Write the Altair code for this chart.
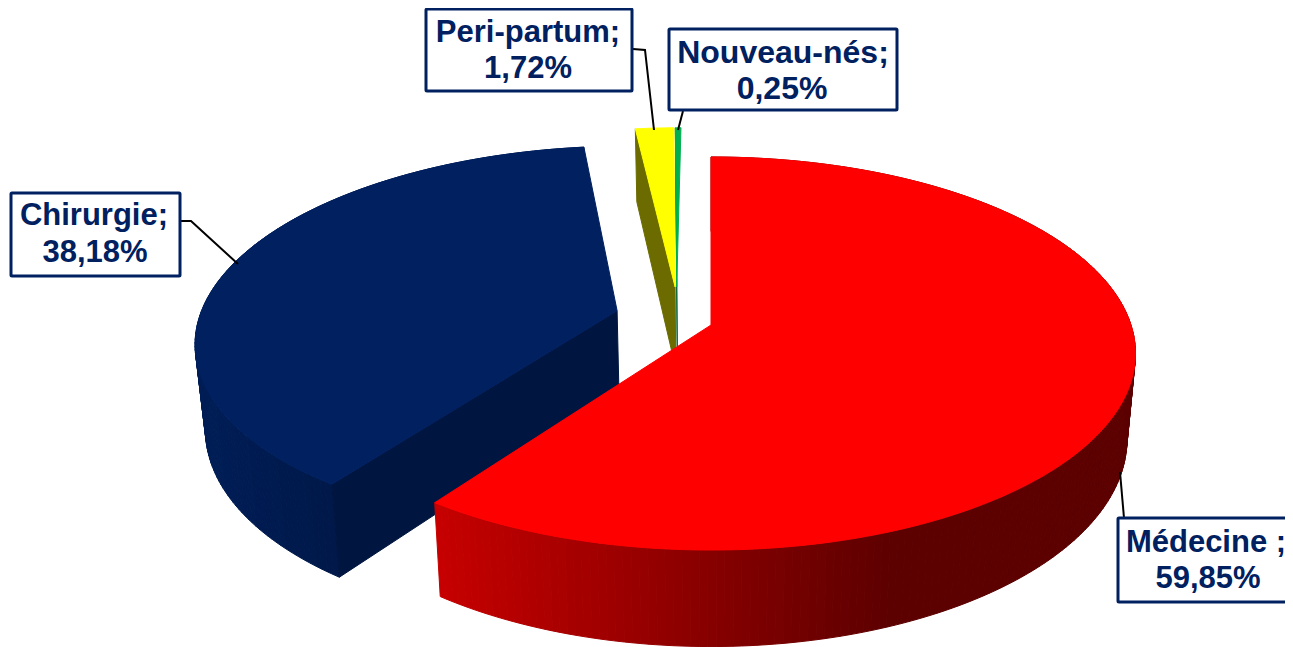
import math
import altair as alt
import pandas as pd

# Chart values
labels = ["Médecine ;", "Chirurgie;", "Peri-partum;", "Nouveau-nés;"]
shares = [59.85, 38.18, 1.72, 0.25]
value_text = ["59,85%", "38,18%", "1,72%", "0,25%"]
# Explosion of each slice in the plane of the pie (fraction of the radius)
explode_u = [0.0, -0.226, -0.088, -0.084]
explode_v = [0.0, -0.075, -0.204, -0.204]
top_colors = ["#FF0000", "#002060", "#FFFF00", "#00B050"]
cut_colors = ["#800000", "#001640", "#6B6B00", "#00602C"]
side_from = [(198, 0, 0), (0, 29, 86), (107, 107, 0), (0, 96, 44)]
side_to = [(92, 0, 0), (0, 25, 74), (107, 107, 0), (0, 96, 44)]
has_wall = [True, True, False, False]
has_cut = [False, True, True, True]

# Label boxes: left, right, top, bottom, text centre, first and second line
box_x = [1118, 11, 426, 669]
box_x2 = [1300, 180, 632, 897]
box_y = [518, 193, 9, 29]
box_y2 = [602, 276, 91, 110]
text_x = [1206, 94, 528, 783]
value_x = [1208, 95, 528, 782]
text_y1 = [543, 216, 33, 53]
text_y2 = [579, 253, 69, 89]
label_size = [31, 31, 31, 32]
# Leader lines
leader_x = [[1120, 1124], [180, 191, 238], [633, 645, 654], [683, 678]]
leader_y = [[472, 518], [221, 221, 264], [49, 50, 130], [111, 130]]

# View of the pie
CX, CY, RX, RY, K = 711.0, 325.0, 420.0, 192.4, 0.145
DEPTH_FAR, DEPTH_SLOPE, SHRINK = 73.0, 0.056, 0.98


def project(u, v):
    w = 1 - K * v
    return CX + RX * u / w, CY + RY * v / w


def lower(x, y):
    return CX + (x - CX) * SHRINK, y + DEPTH_FAR + DEPTH_SLOPE * (y - 130)


def rim(a, i):
    r = math.radians(a)
    return project(explode_u[i] + math.sin(r), explode_v[i] - math.cos(r))


rows = []
pid = 0


def poly(points, color):
    global pid
    pid += 1
    closed = points + [points[0]]
    for n, (x, y) in enumerate(closed):
        rows.append({"id": pid, "n": n, "x": x, "y": y, "color": color})


def mix(c0, c1, t):
    t = max(0.0, min(1.0, t))
    return "#%02x%02x%02x" % tuple(round(p + (q - p) * t) for p, q in zip(c0, c1))


# Angle range of every slice, clockwise from the top
start = 0.0
ranges = []
for s in shares:
    ranges.append((start, start + s * 3.6))
    start += s * 3.6

# Painted from back to front
for i in [3, 2, 1, 0]:
    a0, a1 = ranges[i]
    apex = project(explode_u[i], explode_v[i])
    step = max(0.15, min(1.0, (a1 - a0) / 8))
    n = max(2, round((a1 - a0) / step))
    angles = [a0 + (a1 - a0) * j / n for j in range(n + 1)]
    pts = [rim(a, i) for a in angles]
    # outer wall
    if has_wall[i]:
        for p, q in zip(pts[:-1], pts[1:]):
            t = (p[0] - 440) / 460 if i == 0 else (p[0] - 200) / 130
            poly([p, q, lower(*q), lower(*p)], mix(side_from[i], side_to[i], t))
    # visible cut face
    if has_cut[i]:
        edge = rim(a0, i)
        poly([apex, edge, lower(*edge), lower(*apex)], cut_colors[i])
    # top face
    poly([apex] + pts, top_colors[i])

pie = pd.DataFrame(rows)

xs = alt.Scale(domain=[8, 1285], nice=False, zero=False)
ys = alt.Scale(domain=[647, 8], nice=False, zero=False)

pie_layer = alt.Chart(pie).mark_line(strokeWidth=1, fill="black", strokeJoin="round").encode(
    x=alt.X("x:Q", scale=xs, axis=None),
    y=alt.Y("y:Q", scale=ys, axis=None),
    order=alt.Order("n:Q"),
    detail="id:N",
    fill=alt.Fill("color:N", scale=None),
    stroke=alt.Stroke("color:N", scale=None),
)

lead = pd.DataFrame(
    [
        {"k": i, "n": n, "x": x, "y": y}
        for i, (lx, ly) in enumerate(zip(leader_x, leader_y))
        for n, (x, y) in enumerate(zip(lx, ly))
    ]
)
lead_layer = alt.Chart(lead).mark_line(color="black", strokeWidth=2).encode(
    x=alt.X("x:Q", scale=xs, axis=None),
    y=alt.Y("y:Q", scale=ys, axis=None),
    order=alt.Order("n:Q"),
    detail="k:N",
)

boxes = pd.DataFrame({"x": box_x, "x2": box_x2, "y": box_y, "y2": box_y2})
box_layer = alt.Chart(boxes).mark_rect(
    fill="white", stroke="#002060", strokeWidth=3, cornerRadius=1
).encode(
    x=alt.X("x:Q", scale=xs, axis=None),
    x2="x2:Q",
    y=alt.Y("y:Q", scale=ys, axis=None),
    y2="y2:Q",
)

texts = pd.DataFrame(
    {
        "t": labels + value_text,
        "x": text_x + value_x,
        "y": text_y1 + text_y2,
        "s": label_size + label_size,
    }
)
text_layer = alt.Chart(texts).mark_text(
    font="Liberation Sans", fontWeight="bold", color="#002060", baseline="middle", align="center"
).encode(
    x=alt.X("x:Q", scale=xs, axis=None),
    y=alt.Y("y:Q", scale=ys, axis=None),
    text="t:N",
    size=alt.Size("s:Q", scale=None),
)

chart = (
    alt.layer(pie_layer, lead_layer, box_layer, text_layer)
    .properties(width=1277, height=639, padding=0, autosize=alt.AutoSizeParams(type="none"), background="white")
    .configure_view(stroke=None)
)
chart.save("out.html", embed_options={"renderer": "svg", "actions": False})
